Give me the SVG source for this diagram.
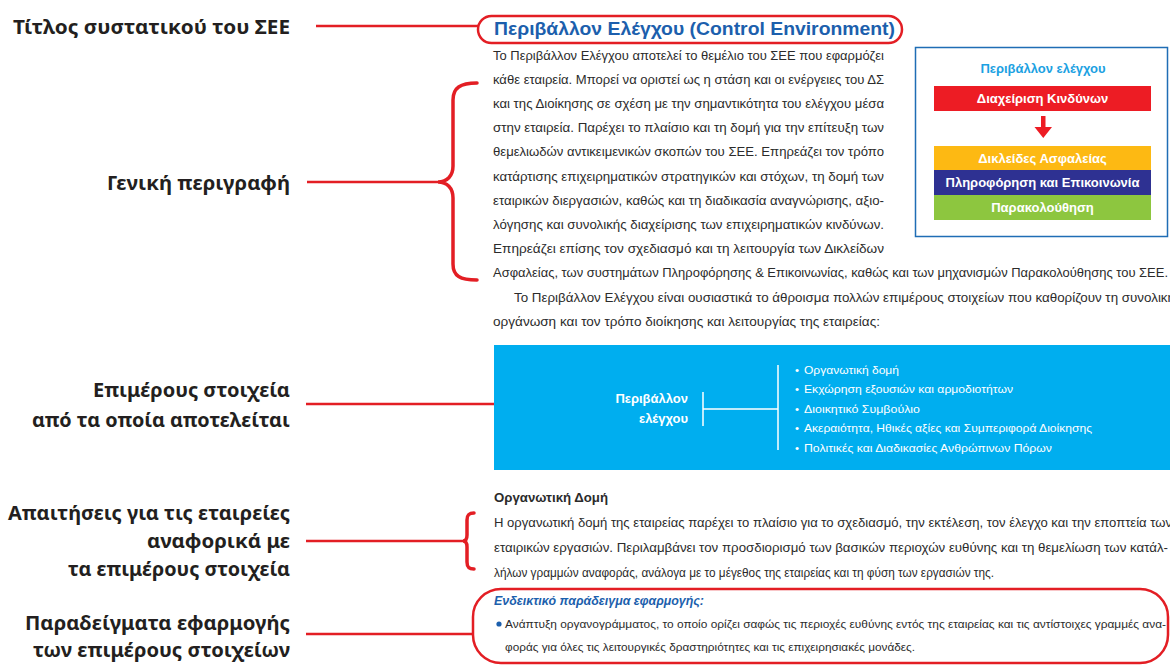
<svg xmlns="http://www.w3.org/2000/svg" width="1170" height="666" viewBox="0 0 1170 666">
<style>
.lbl{font-family:"Noto Sans","Liberation Sans",sans-serif;font-weight:700;font-size:20px;fill:#231f20;text-anchor:end}
.body{font-family:"Liberation Sans",Arial,sans-serif;font-size:12.5px;fill:#2b2b2b}
.red{stroke:#e31e24;stroke-width:2.5;fill:none}
.brace{stroke:#e31e24;stroke-width:3.5;fill:none;stroke-linecap:round}
.bar{font-family:"Liberation Sans",Arial,sans-serif;font-weight:700;font-size:13px;fill:#fff;text-anchor:middle}
.wb{font-family:"Liberation Sans",Arial,sans-serif;font-size:11.5px;fill:#fff}
</style>
<rect width="1170" height="666" fill="#fff"/>

<g id="label-title">
<text class="lbl" x="290" y="34" textLength="277" lengthAdjust="spacingAndGlyphs">Τίτλος συστατικού του ΣΕΕ</text>
</g>
<g id="label-general">
<text class="lbl" x="290" y="190" textLength="183" lengthAdjust="spacingAndGlyphs">Γενική περιγραφή</text>
</g>
<g id="label-elements">
<text class="lbl" x="290" y="397" textLength="197" lengthAdjust="spacingAndGlyphs">Επιμέρους στοιχεία</text>
<text class="lbl" x="290" y="427" textLength="258" lengthAdjust="spacingAndGlyphs">από τα οποία αποτελείται</text>
</g>
<g id="label-requirements">
<text class="lbl" x="290" y="520" textLength="282" lengthAdjust="spacingAndGlyphs">Απαιτήσεις για τις εταιρείες</text>
<text class="lbl" x="290" y="548" textLength="143" lengthAdjust="spacingAndGlyphs">αναφορικά με</text>
<text class="lbl" x="290" y="576" textLength="222" lengthAdjust="spacingAndGlyphs">τα επιμέρους στοιχεία</text>
</g>
<g id="label-examples">
<text class="lbl" x="290" y="630" textLength="265" lengthAdjust="spacingAndGlyphs">Παραδείγματα εφαρμογής</text>
<text class="lbl" x="290" y="657" textLength="257" lengthAdjust="spacingAndGlyphs">των επιμέρους στοιχείων</text>
</g>

<g id="connectors">
<line class="red" x1="316" y1="26" x2="478" y2="26"/>
<line class="red" x1="307" y1="182" x2="438" y2="182"/>
<path class="brace" d="M477,83 C460,83 453,88 453,100 L453,166 C453,176 447,182 438,182 C447,182 453,188 453,198 L453,264 C453,276 460,280 477,280"/>
<line class="red" x1="306" y1="404" x2="494" y2="404"/>
<line class="red" x1="306" y1="541" x2="463" y2="541"/>
<path class="brace" d="M474,513 C469,513 467,515 467,520 L467,535 C467,539 466,541 463,541 C466,541 467,543 467,547 L467,562 C467,567 469,569 474,569"/>
<line class="red" x1="306" y1="634" x2="473" y2="634"/>
</g>

<g id="title-node">
<rect x="478" y="16" width="424" height="27" rx="13.5" fill="none" stroke="#e31e24" stroke-width="2.5"/>
<text x="494" y="35" font-family="Liberation Sans, Arial, sans-serif" font-weight="700" font-size="17.5" fill="#1c5fad" textLength="401" lengthAdjust="spacingAndGlyphs">Περιβάλλον Ελέγχου (Control Environment)</text>
</g>

<g id="description-node">
<text class="body" x="493" y="59.5" textLength="391" lengthAdjust="spacingAndGlyphs">Το Περιβάλλον Ελέγχου αποτελεί το θεμέλιο του ΣΕΕ που εφαρμόζει</text>
<text class="body" x="493" y="83.7" textLength="391" lengthAdjust="spacingAndGlyphs">κάθε εταιρεία. Μπορεί να οριστεί ως η στάση και οι ενέργειες του ΔΣ</text>
<text class="body" x="493" y="107.9" textLength="391" lengthAdjust="spacingAndGlyphs">και της Διοίκησης σε σχέση με την σημαντικότητα του ελέγχου μέσα</text>
<text class="body" x="493" y="132.1" textLength="391" lengthAdjust="spacingAndGlyphs">στην εταιρεία. Παρέχει το πλαίσιο και τη δομή για την επίτευξη των</text>
<text class="body" x="493" y="156.3" textLength="391" lengthAdjust="spacingAndGlyphs">θεμελιωδών αντικειμενικών σκοπών του ΣΕΕ. Επηρεάζει τον τρόπο</text>
<text class="body" x="493" y="180.5" textLength="391" lengthAdjust="spacingAndGlyphs">κατάρτισης επιχειρηματικών στρατηγικών και στόχων, τη δομή των</text>
<text class="body" x="493" y="204.7" textLength="391" lengthAdjust="spacingAndGlyphs">εταιρικών διεργασιών, καθώς και τη διαδικασία αναγνώρισης, αξιο-</text>
<text class="body" x="493" y="228.9" textLength="391" lengthAdjust="spacingAndGlyphs">λόγησης και συνολικής διαχείρισης των επιχειρηματικών κινδύνων.</text>
<text class="body" x="493" y="253.1" textLength="391" lengthAdjust="spacingAndGlyphs">Επηρεάζει επίσης τον σχεδιασμό και τη λειτουργία των Δικλείδων</text>
<text class="body" x="493" y="277.3" textLength="675" lengthAdjust="spacingAndGlyphs">Ασφαλείας, των συστημάτων Πληροφόρησης &amp; Επικοινωνίας, καθώς και των μηχανισμών Παρακολούθησης του ΣΕΕ.</text>
<text class="body" x="514" y="301.5" textLength="661" lengthAdjust="spacingAndGlyphs">Το Περιβάλλον Ελέγχου είναι ουσιαστικά το άθροισμα πολλών επιμέρους στοιχείων που καθορίζουν τη συνολική</text>
<text class="body" x="493" y="325.7" textLength="387" lengthAdjust="spacingAndGlyphs">οργάνωση και τον τρόπο διοίκησης και λειτουργίας της εταιρείας:</text>
</g>

<g id="environment-box">
<rect x="915.5" y="47.5" width="252" height="189" fill="#fff" stroke="#1f6db5" stroke-width="1.5"/>
<text x="1043" y="72.5" font-family="Liberation Sans, Arial, sans-serif" font-weight="700" font-size="13" fill="#1ba1e2" text-anchor="middle">Περιβάλλον ελέγχου</text>
<rect x="934" y="86" width="217" height="25" fill="#ed1c24"/>
<text class="bar" x="1042.5" y="103">Διαχείριση Κινδύνων</text>
<path d="M1041,116 h4.5 v11 h6.5 l-8.75,11 l-8.75,-11 h6.5 z" fill="#ed1c24"/>
<rect x="934" y="146" width="217" height="24" fill="#fdb913"/>
<text class="bar" x="1042.5" y="162.5">Δικλείδες Ασφαλείας</text>
<rect x="934" y="170" width="217" height="25" fill="#2e3192"/>
<text class="bar" x="1042.5" y="187">Πληροφόρηση και Επικοινωνία</text>
<rect x="934" y="195" width="217" height="25" fill="#8dc63f"/>
<text class="bar" x="1042.5" y="212">Παρακολούθηση</text>
</g>

<g id="elements-node">
<rect x="494" y="345" width="676" height="125" fill="#00aeef"/>
<text x="688" y="403" font-family="Liberation Sans, Arial, sans-serif" font-weight="700" font-size="13" fill="#fff" text-anchor="end">Περιβάλλον</text>
<text x="688" y="423" font-family="Liberation Sans, Arial, sans-serif" font-weight="700" font-size="13" fill="#fff" text-anchor="end">ελέγχου</text>
<g stroke="#fff" stroke-width="1.5" fill="none">
<line x1="703" y1="392" x2="703" y2="426"/>
<line x1="703" y1="409" x2="778" y2="409"/>
<line x1="778" y1="365" x2="778" y2="450"/>
</g>
<text class="wb" x="795" y="373.5">•</text>
<text class="wb" x="804" y="373.5" textLength="95" lengthAdjust="spacingAndGlyphs">Οργανωτική δομή</text>
<text class="wb" x="795" y="393">•</text>
<text class="wb" x="804" y="393" textLength="209" lengthAdjust="spacingAndGlyphs">Εκχώρηση εξουσιών και αρμοδιοτήτων</text>
<text class="wb" x="795" y="412.5">•</text>
<text class="wb" x="804" y="412.5" textLength="116" lengthAdjust="spacingAndGlyphs">Διοικητικό Συμβούλιο</text>
<text class="wb" x="795" y="432">•</text>
<text class="wb" x="804" y="432" textLength="288" lengthAdjust="spacingAndGlyphs">Ακεραιότητα, Ηθικές αξίες και Συμπεριφορά Διοίκησης</text>
<text class="wb" x="795" y="451.5">•</text>
<text class="wb" x="804" y="451.5" textLength="248" lengthAdjust="spacingAndGlyphs">Πολιτικές και Διαδικασίες Ανθρώπινων Πόρων</text>
</g>

<g id="requirements-node">
<text x="494" y="501.5" font-family="Liberation Sans, Arial, sans-serif" font-weight="700" font-size="12" fill="#2b2b2b" textLength="114" lengthAdjust="spacingAndGlyphs">Οργανωτική Δομή</text>
<text class="body" x="494" y="527" textLength="678" lengthAdjust="spacingAndGlyphs">Η οργανωτική δομή της εταιρείας παρέχει το πλαίσιο για το σχεδιασμό, την εκτέλεση, τον έλεγχο και την εποπτεία των</text>
<text class="body" x="494" y="552" textLength="674" lengthAdjust="spacingAndGlyphs">εταιρικών εργασιών. Περιλαμβάνει τον προσδιορισμό των βασικών περιοχών ευθύνης και τη θεμελίωση των κατάλ-</text>
<text class="body" x="494" y="576.5" textLength="500" lengthAdjust="spacingAndGlyphs">λήλων γραμμών αναφοράς, ανάλογα με το μέγεθος της εταιρείας και τη φύση των εργασιών της.</text>
</g>

<g id="example-node">
<rect x="473" y="589" width="695" height="74" rx="28" fill="none" stroke="#e31e24" stroke-width="2.5"/>
<text x="494" y="605" font-family="Liberation Sans, Arial, sans-serif" font-weight="700" font-style="italic" font-size="12" fill="#1c5fad" textLength="210" lengthAdjust="spacingAndGlyphs">Ενδεικτικό παράδειγμα εφαρμογής:</text>
<circle cx="499" cy="624" r="2.6" fill="#1c5fad"/>
<text x="505" y="628" font-family="Liberation Sans, Arial, sans-serif" font-size="11.5" fill="#2b2b2b" textLength="661" lengthAdjust="spacingAndGlyphs">Ανάπτυξη οργανογράμματος, το οποίο ορίζει σαφώς τις περιοχές ευθύνης εντός της εταιρείας και τις αντίστοιχες γραμμές ανα-</text>
<text x="505" y="651" font-family="Liberation Sans, Arial, sans-serif" font-size="11.5" fill="#2b2b2b" textLength="410" lengthAdjust="spacingAndGlyphs">φοράς για όλες τις λειτουργικές δραστηριότητες και τις επιχειρησιακές μονάδες.</text>
</g>
</svg>
